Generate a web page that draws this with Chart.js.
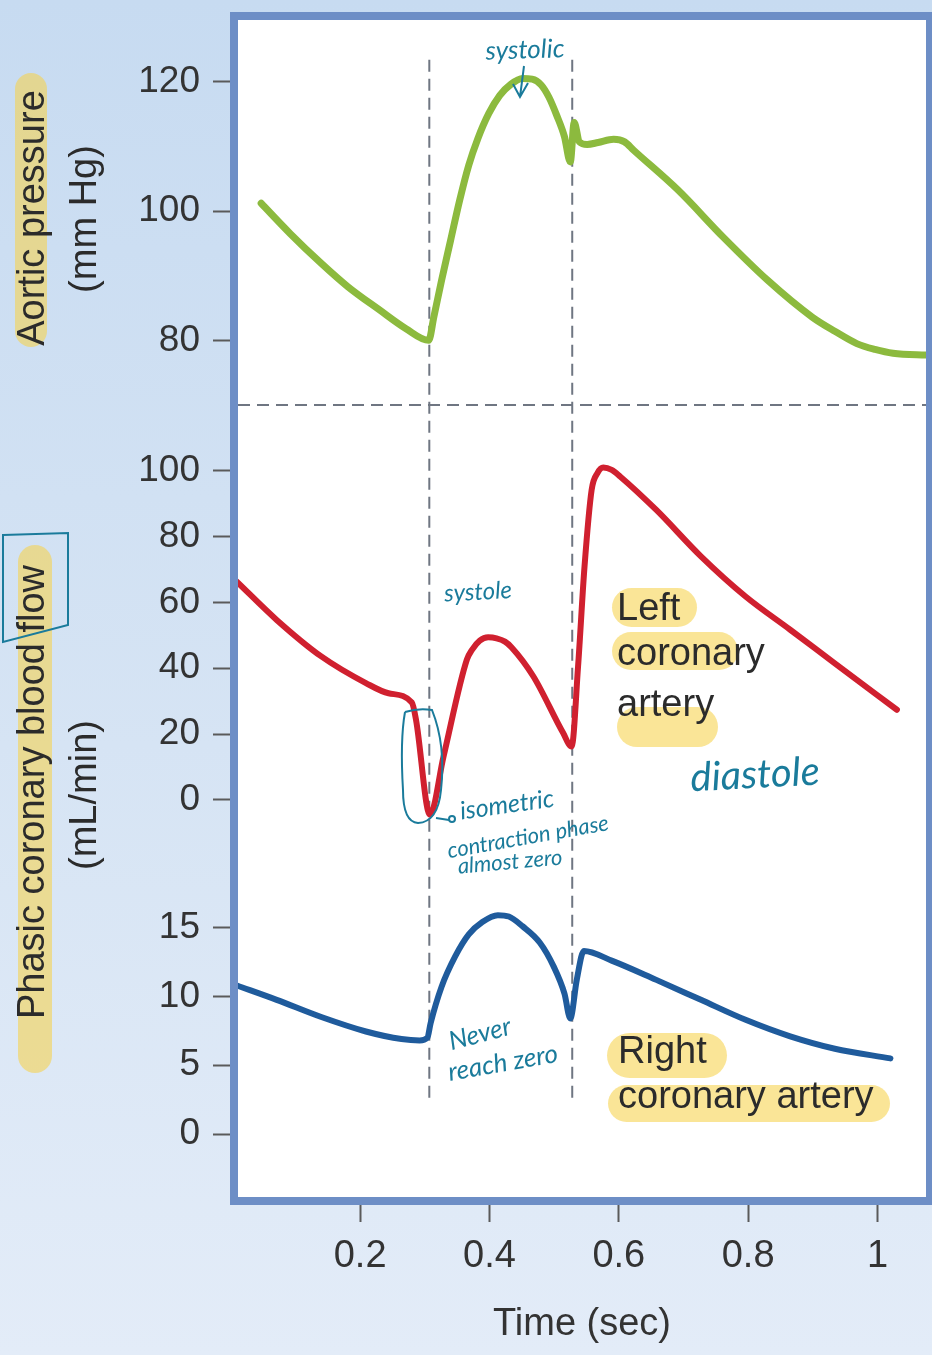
<!DOCTYPE html>
<html>
<head>
<meta charset="utf-8">
<script src="https://cdn.jsdelivr.net/npm/chart.js@4.4.1/dist/chart.umd.min.js"></script>
<style>
  html, body { margin: 0; padding: 0; }
  body {
    width: 932px; height: 1355px; overflow: hidden;
    background: linear-gradient(180deg, #c7dbf1 0%, #d6e4f4 55%, #e3ecf8 100%);
  }
  #wrap { position: relative; width: 932px; height: 1355px; }
</style>
</head>
<body>
<div id="wrap"><canvas id="coronaryChart"></canvas></div>
<script>
// tick labels
const timeTicks = [0.2, 0.4, 0.6, 0.8, 1];
const aorticTicks = [80, 100, 120];
const leftTicks = [0, 20, 40, 60, 80, 100];
const rightTicks = [0, 5, 10, 15];

// aortic pressure (mm Hg)
const aorticTime = [0.047, 0.092, 0.140, 0.181, 0.230, 0.271, 0.306, 0.314, 0.326, 0.340, 0.354, 0.368, 0.382, 0.399,
  0.416, 0.433, 0.451, 0.466, 0.480, 0.492, 0.504, 0.516, 0.525, 0.531, 0.539, 0.551, 0.568, 0.592, 0.609, 0.623,
  0.692, 0.761, 0.830, 0.899, 0.934, 0.968, 0.996, 1.024, 1.079];
const aorticPressure = [101.2, 96.5, 91.9, 88.3, 84.7, 81.8, 80.0, 83.6, 89.3, 95.5, 101.7, 107.1, 111.2, 115.1,
  117.9, 119.6, 120.5, 120.4, 119.5, 117.6, 114.8, 111.5, 107.6, 113.7, 110.7, 110.3, 110.6, 111.1, 110.7, 109.4,
  103.2, 96.0, 89.3, 83.6, 81.4, 79.5, 78.6, 78.0, 77.7];

// left coronary artery flow (mL/min)
const leftTime = [0.009, 0.071, 0.140, 0.209, 0.244, 0.280, 0.2865, 0.308, 0.329, 0.365, 0.373, 0.385, 0.398, 0.411, 0.424,
  0.434, 0.468, 0.514, 0.527, 0.537, 0.547, 0.558, 0.567, 0.576, 0.589, 0.602, 0.658, 0.727, 0.796, 0.865, 0.934, 1.030];
const leftFlow = [66.4, 54.7, 43.6, 35.5, 32.4, 29.6, 24.3, -4.5, 13.2, 42.6, 45.6, 48.4, 49.4, 49.1, 48.1,
  46.4, 37.5, 20.3, 16.2, 40.5, 70.9, 94.2, 99.3, 101.0, 100.3, 98.3, 88.1, 74.0, 61.8, 51.7, 41.5, 27.4];

// right coronary artery flow (mL/min)
const rightTime = [0.009, 0.071, 0.140, 0.209, 0.264, 0.292, 0.304, 0.309, 0.326, 0.347, 0.368, 0.389, 0.413, 0.430, 0.451,
  0.478, 0.499, 0.516, 0.525, 0.535, 0.546, 0.589, 0.658, 0.727, 0.796, 0.865, 0.934, 1.020];
const rightFlow = [10.8, 9.75, 8.5, 7.45, 6.9, 6.8, 7.0, 8.05, 10.7, 12.9, 14.5, 15.4, 15.9, 15.8, 15.1,
  13.9, 12.2, 10.2, 8.4, 11.2, 13.3, 12.6, 11.2, 9.75, 8.3, 7.1, 6.2, 5.5];

// the two dashed phase boundaries (sec)
const phaseLines = [0.307, 0.528];

const FONT = '"Liberation Sans", Arial, sans-serif';
const INK = '#1a7b9b';
const TEXT = '#2b2b2b';

const pts = (xs, ys) => xs.map((x, i) => ({ x: x, y: ys[i] }));

function noEdgePadding(s) {
  s.paddingTop = 0;
  s.paddingBottom = 0;
  s.paddingLeft = 0;
  s.paddingRight = 0;
}

function leftAxis(ticks, min, max, weight) {
  return {
    type: 'linear',
    position: 'left',
    stack: 'panels',
    stackWeight: weight,
    min: min,
    max: max,
    afterBuildTicks: s => { s.ticks = ticks.map(v => ({ value: v })); },
    afterFit: s => { s.width = 238; noEdgePadding(s); },
    ticks: { font: { family: FONT, size: 37 }, color: '#333', padding: 13, autoSkip: false },
    grid: { drawOnChartArea: false, drawTicks: true, tickLength: 25, tickColor: '#5a5a5a', tickWidth: 2 },
    border: { display: false }
  };
}

function lineSet(data, axis, color, width) {
  return {
    data: data,
    yAxisID: axis,
    borderColor: color,
    borderWidth: width,
    pointRadius: 0,
    cubicInterpolationMode: 'monotone',
    borderJoinStyle: 'round',
    borderCapStyle: 'round',
    fill: false
  };
}

const plotPanel = {
  id: 'plotPanel',
  beforeDraw(chart) {
    const { ctx, chartArea: a } = chart;
    ctx.save();
    ctx.fillStyle = '#ffffff';
    ctx.fillRect(a.left, a.top, a.right - a.left, a.bottom - a.top);
    ctx.restore();
  }
};

const phaseMarkers = {
  id: 'phaseMarkers',
  beforeDatasetsDraw(chart) {
    const { ctx, chartArea: a, scales } = chart;
    ctx.save();
    ctx.strokeStyle = '#6f7682';
    ctx.lineWidth = 2;
    ctx.setLineDash([12, 7]);
    const split = scales.yAortic.bottom;
    ctx.beginPath();
    ctx.moveTo(a.left, split);
    ctx.lineTo(a.right, split);
    ctx.stroke();
    const top = scales.yAortic.getPixelForValue(123.4);
    const bottom = scales.yRight.getPixelForValue(2.5);
    phaseLines.forEach(t => {
      const x = scales.x.getPixelForValue(t);
      ctx.beginPath();
      ctx.moveTo(x, top);
      ctx.lineTo(x, bottom);
      ctx.stroke();
    });
    ctx.restore();
  }
};

function highlight(ctx, x, y, w, h) {
  ctx.fillStyle = 'rgba(247, 210, 75, 0.58)';
  ctx.beginPath();
  ctx.roundRect(x, y, w, h, Math.min(w, h) / 2);
  ctx.fill();
}

function note(ctx, text, x, y, size, angle) {
  ctx.save();
  ctx.translate(x, y);
  ctx.rotate(angle * Math.PI / 180);
  ctx.font = 'italic ' + size + 'px Lato, "DejaVu Sans", sans-serif';
  ctx.fillStyle = INK;
  ctx.textAlign = 'center';
  ctx.textBaseline = 'middle';
  ctx.fillText(text, 0, 0);
  ctx.restore();
}

function sideTitle(ctx, text, cx, cy) {
  ctx.save();
  ctx.translate(cx, cy);
  ctx.rotate(-Math.PI / 2);
  ctx.font = '38px ' + FONT;
  ctx.fillStyle = TEXT;
  ctx.textAlign = 'center';
  ctx.textBaseline = 'middle';
  ctx.fillText(text, 0, 0);
  ctx.restore();
}

const frameAndNotes = {
  id: 'frameAndNotes',
  afterDraw(chart) {
    const { ctx, chartArea: a } = chart;
    ctx.save();

    // blue frame round the plot
    ctx.strokeStyle = '#6d8ec6';
    ctx.lineWidth = 8;
    ctx.strokeRect(a.left - 4, a.top - 4, a.right - a.left + 8, a.bottom - a.top + 8);

    // yellow marker highlights
    highlight(ctx, 15, 73, 32, 274);
    highlight(ctx, 18, 545, 34, 528);
    highlight(ctx, 612, 588, 85, 39);
    highlight(ctx, 612, 632, 126, 38);
    highlight(ctx, 617, 707, 101, 40);
    highlight(ctx, 607, 1033, 120, 45);
    highlight(ctx, 608, 1085, 282, 37);

    // axis titles
    sideTitle(ctx, 'Aortic pressure', 34, 218);
    sideTitle(ctx, '(mm Hg)', 86, 219);
    sideTitle(ctx, 'Phasic coronary blood flow', 34, 792);
    sideTitle(ctx, '(mL/min)', 86, 795);

    // series labels
    ctx.font = '38px ' + FONT;
    ctx.fillStyle = TEXT;
    ctx.textAlign = 'left';
    ctx.textBaseline = 'alphabetic';
    ctx.fillText('Left', 617, 620);
    ctx.fillText('coronary', 617, 665);
    ctx.fillText('artery', 617, 716);
    ctx.fillText('Right', 618, 1063);
    ctx.fillText('coronary artery', 618, 1108);

    // handwritten notes
    note(ctx, 'systolic', 525, 50, 26, -2);
    note(ctx, 'systole', 478, 592, 24, -3);
    note(ctx, 'isometric', 507, 805, 25, -8);
    note(ctx, 'contraction phase', 528, 837, 22, -10);
    note(ctx, 'almost zero', 510, 862, 22, -5);
    note(ctx, 'diastole', 755, 775, 40, -3);
    note(ctx, 'Never', 480, 1034, 26, -15);
    note(ctx, 'reach zero', 503, 1063, 26, -10);

    ctx.strokeStyle = INK;
    ctx.lineWidth = 2;
    ctx.setLineDash([]);
    // arrow under "systolic"
    ctx.beginPath();
    ctx.moveTo(524, 66); ctx.lineTo(520, 97);
    ctx.moveTo(513, 84); ctx.lineTo(520, 97); ctx.lineTo(528, 83);
    ctx.stroke();
    // loop round the left-artery dip
    ctx.beginPath();
    ctx.moveTo(405, 712);
    ctx.quadraticCurveTo(418, 708, 432, 710);
    ctx.quadraticCurveTo(446, 745, 441, 790);
    ctx.quadraticCurveTo(438, 822, 418, 823);
    ctx.quadraticCurveTo(403, 822, 403, 790);
    ctx.quadraticCurveTo(400, 740, 405, 712);
    ctx.stroke();
    ctx.beginPath();
    ctx.moveTo(436, 818); ctx.lineTo(449, 820);
    ctx.stroke();
    ctx.beginPath();
    ctx.arc(452, 819, 3, 0, Math.PI * 2);
    ctx.stroke();
    // box round "flow"
    ctx.beginPath();
    ctx.moveTo(3, 535); ctx.lineTo(68, 533); ctx.lineTo(68, 625); ctx.lineTo(3, 642); ctx.closePath();
    ctx.stroke();

    ctx.restore();
  }
};

new Chart(document.getElementById('coronaryChart'), {
  type: 'line',
  data: {
    datasets: [
      lineSet(pts(aorticTime, aorticPressure), 'yAortic', '#8cba3e', 7),
      lineSet(pts(leftTime, leftFlow), 'yLeft', '#d0202f', 6),
      lineSet(pts(rightTime, rightFlow), 'yRight', '#1f5b9c', 6)
    ]
  },
  options: {
    responsive: true,
    maintainAspectRatio: false,
    animation: false,
    devicePixelRatio: 1,
    events: [],
    layout: { padding: { top: 20, right: 6, left: 0, bottom: 0 } },
    plugins: { legend: { display: false }, tooltip: { enabled: false } },
    scales: {
      x: {
        type: 'linear',
        min: 0.0112,
        max: 1.075,
        afterBuildTicks: s => { s.ticks = timeTicks.map(v => ({ value: v })); },
        afterFit: s => { s.height = 158; noEdgePadding(s); },
        ticks: { font: { family: FONT, size: 38 }, color: '#333', padding: 12, autoSkip: false, callback: v => String(v) },
        grid: { drawOnChartArea: false, drawTicks: true, tickLength: 25, tickColor: '#5a5a5a', tickWidth: 2 },
        border: { display: false },
        title: { display: true, text: 'Time (sec)', font: { family: FONT, size: 38 }, color: '#333', padding: { top: 0, bottom: 8 } }
      },
      yRight: leftAxis(rightTicks, -4.57, 19.18, 327),
      yLeft: leftAxis(leftTicks, -21.3, 120, 465),
      yAortic: leftAxis(aorticTicks, 70, 129.55, 385)
    }
  },
  plugins: [plotPanel, phaseMarkers, frameAndNotes]
});
</script>
</body>
</html>
